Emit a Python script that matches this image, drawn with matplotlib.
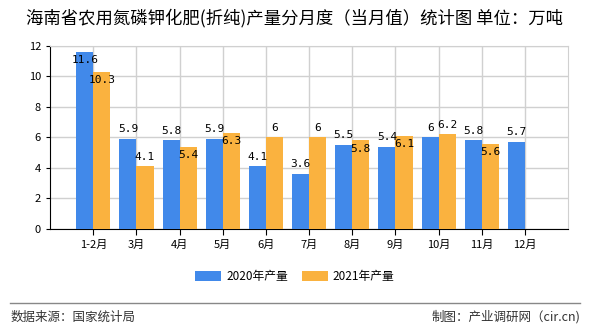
import numpy as np
import matplotlib.pyplot as plt
from matplotlib.lines import Line2D

plt.rcParams['font.family'] = ['Noto Sans CJK SC', 'DejaVu Sans']

months = ['1-2月', '3月', '4月', '5月', '6月', '7月', '8月', '9月', '10月', '11月', '12月']
prod_2020 = [11.6, 5.9, 5.8, 5.9, 4.1, 3.6, 5.5, 5.4, 6, 5.8, 5.7]
prod_2021 = [10.3, 4.1, 5.4, 6.3, 6, 6, 5.8, 6.1, 6.2, 5.6]

# label placement: True = drawn just inside the bar top
inside_2020 = [True] + [False] * 10
inside_2021 = [True, False, True, True, False, False, True, True, False, True]

blue = '#4189EA'
orange = '#FAB23F'

fig = plt.figure(figsize=(5.9, 3.3), dpi=100)
ax = fig.add_axes([0.085, 0.306, 0.878, 0.555])

x = np.arange(len(months))
w = 0.395
ax.bar(x[:len(prod_2020)] - w / 2, prod_2020, w, color=blue, label='2020年产量', zorder=3)
ax.bar(x[:len(prod_2021)] + w / 2, prod_2021, w, color=orange, label='2021年产量', zorder=3)

def fmt(v):
    return '%g' % v

for xs, vals, ins in [(x - w / 2, prod_2020, inside_2020), (x + w / 2, prod_2021, inside_2021)]:
    for xi, v, i in zip(xs, vals, ins):
        y = v - 0.55 if i else v + 0.3
        ax.text(xi, y, fmt(v), ha='center', va='bottom' if not i else 'center',
                fontsize=8, family='DejaVu Sans Mono', zorder=4)

ax.set_xlim(-1, len(months))
ax.set_ylim(0, 12)
ax.set_yticks(range(0, 13, 2))
ax.set_xticks(x)
ax.set_xticklabels(months, fontsize=8)
ax.tick_params(axis='y', labelsize=8, length=3)
ax.tick_params(axis='x', length=4)
ax.grid(True, color='#d0d0d0', linewidth=1, zorder=0)
for s in ['top', 'right']:
    ax.spines[s].set_color('#d0d0d0')
for s in ['left', 'bottom']:
    ax.spines[s].set_color('black')

fig.text(0.5, 0.945, '海南省农用氮磷钾化肥(折纯)产量分月度（当月值）统计图 单位：万吨',
         ha='center', va='center', fontsize=12.5)

fig.legend(loc='center', bbox_to_anchor=(0.5, 0.163), ncol=2, frameon=False,
           fontsize=8.5, handlelength=2.2, handleheight=0.9, handletextpad=0.4,
           columnspacing=1.2)

fig.add_artist(Line2D([0.017, 0.983], [0.082, 0.082], color='#888888', linewidth=1,
                      transform=fig.transFigure))
fig.text(0.017, 0.04, '数据来源：国家统计局', ha='left', va='center', fontsize=9, color='#333333')
fig.text(0.983, 0.04, '制图：产业调研网（cir.cn)', ha='right', va='center', fontsize=9, color='#333333')

fig.savefig('out.png', dpi=100)
